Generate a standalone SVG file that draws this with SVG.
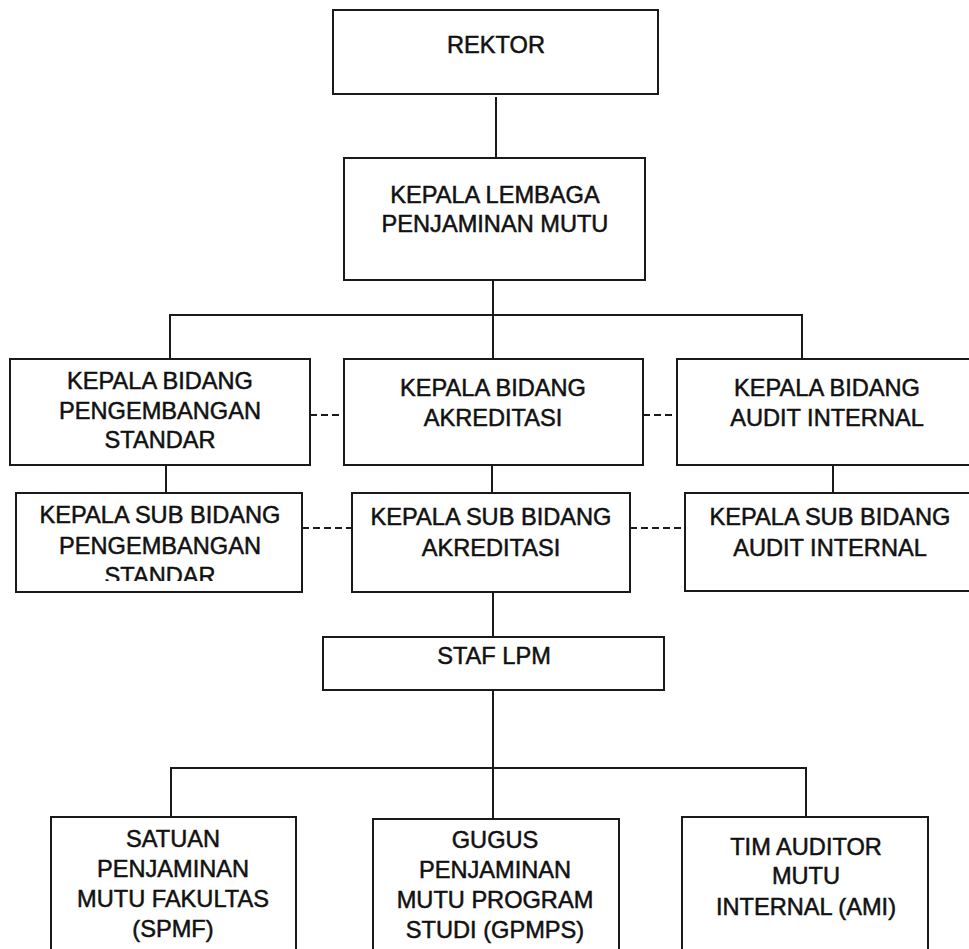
<svg xmlns="http://www.w3.org/2000/svg" width="969" height="949" viewBox="0 0 969 949">
<style>
.box{fill:#fff;stroke:#1a1a1a;stroke-width:2}
.ln{fill:none;stroke:#1a1a1a;stroke-width:2}
.dash{fill:none;stroke:#1a1a1a;stroke-width:2;stroke-dasharray:7,4}
text{font-family:"Liberation Sans",Arial,sans-serif;font-size:23.6px;fill:#111;stroke:#111;stroke-width:0.5;text-anchor:middle}
</style>
<defs>
<clipPath id="clipStd"><rect x="16" y="493" width="286" height="88"/></clipPath>
</defs>
<rect width="969" height="949" fill="#fff"/>
<g id="connectors">
<line class="ln" x1="496" y1="97" x2="496" y2="158"/>
<line class="ln" x1="493" y1="280" x2="493" y2="359"/>
<polyline class="ln" points="170,359 170,315 802,315 802,359"/>
<line class="ln" x1="166" y1="465" x2="166" y2="493"/>
<line class="ln" x1="492" y1="465" x2="492" y2="493"/>
<line class="ln" x1="833" y1="465" x2="833" y2="493"/>
<line class="dash" x1="310" y1="415" x2="344" y2="415"/>
<line class="dash" x1="643" y1="415" x2="677" y2="415"/>
<line class="dash" x1="302" y1="528" x2="352" y2="528"/>
<line class="dash" x1="630" y1="528" x2="685" y2="528"/>
<line class="ln" x1="493" y1="592" x2="493" y2="637"/>
<line class="ln" x1="493" y1="690" x2="493" y2="819"/>
<polyline class="ln" points="171,817 171,768 806,768 806,817"/>
</g>
<g id="rektor">
<rect class="box" x="333" y="10" width="325" height="84"/>
<text x="496" y="53">REKTOR</text>
</g>
<g id="kepala-lembaga">
<rect class="box" x="344" y="158" width="301" height="122"/>
<text x="495" y="203">KEPALA LEMBAGA</text>
<text x="495" y="232">PENJAMINAN MUTU</text>
</g>
<g id="bidang-standar">
<rect class="box" x="10" y="359" width="300" height="106"/>
<text x="160" y="389">KEPALA BIDANG</text>
<text x="160" y="419">PENGEMBANGAN</text>
<text x="160" y="448">STANDAR</text>
</g>
<g id="bidang-akreditasi">
<rect class="box" x="344" y="359" width="299" height="106"/>
<text x="493" y="396">KEPALA BIDANG</text>
<text x="493" y="426">AKREDITASI</text>
</g>
<g id="bidang-audit">
<rect class="box" x="677" y="359" width="300" height="106"/>
<text x="827" y="396">KEPALA BIDANG</text>
<text x="827" y="426">AUDIT INTERNAL</text>
</g>
<g id="sub-standar">
<rect class="box" x="16" y="493" width="286" height="99"/>
<text x="160" y="523">KEPALA SUB BIDANG</text>
<text x="160" y="554">PENGEMBANGAN</text>
<text x="160" y="584" clip-path="url(#clipStd)">STANDAR</text>
</g>
<g id="sub-akreditasi">
<rect class="box" x="352" y="493" width="278" height="99"/>
<text x="491" y="525">KEPALA SUB BIDANG</text>
<text x="491" y="556">AKREDITASI</text>
</g>
<g id="sub-audit">
<rect class="box" x="685" y="493" width="292" height="98"/>
<text x="830" y="525">KEPALA SUB BIDANG</text>
<text x="830" y="556">AUDIT INTERNAL</text>
</g>
<g id="staf-lpm">
<rect class="box" x="323" y="637" width="341" height="53"/>
<text x="494" y="664">STAF LPM</text>
</g>
<g id="spmf">
<rect class="box" x="51" y="817" width="245" height="150"/>
<text x="173" y="847">SATUAN</text>
<text x="173" y="877">PENJAMINAN</text>
<text x="173" y="907">MUTU FAKULTAS</text>
<text x="173" y="937">(SPMF)</text>
</g>
<g id="gpmps">
<rect class="box" x="373" y="819" width="246" height="150"/>
<text x="495" y="848">GUGUS</text>
<text x="495" y="878">PENJAMINAN</text>
<text x="495" y="908">MUTU PROGRAM</text>
<text x="495" y="938">STUDI (GPMPS)</text>
</g>
<g id="tim-auditor">
<rect class="box" x="682" y="817" width="246" height="150"/>
<text x="806" y="855">TIM AUDITOR</text>
<text x="806" y="884">MUTU</text>
<text x="806" y="915">INTERNAL (AMI)</text>
</g>
</svg>
